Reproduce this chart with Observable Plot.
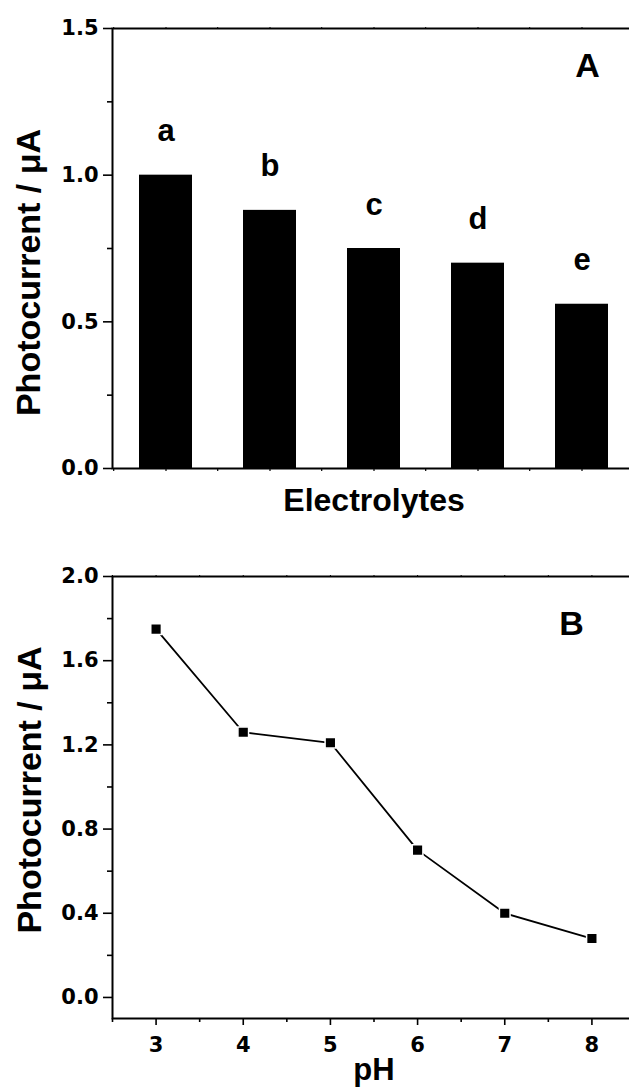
<!DOCTYPE html>
<html><head><meta charset="utf-8">
<script src="https://cdn.jsdelivr.net/npm/d3@7"></script>
<script src="https://cdn.jsdelivr.net/npm/@observablehq/plot@0.6"></script>
<style>
html,body{margin:0;padding:0;background:#fff;}
#chart svg{display:block;}
</style>
</head><body><div id="chart"></div>
<script>
// ---- data ----
const electrolytes = ["a", "b", "c", "d", "e"];
const photocurrentA = [1.00, 0.88, 0.75, 0.70, 0.56];
const yTicksA = [0, 0.5, 1.0, 1.5];
const yMinorA = [0.25, 0.75, 1.25];

const pH = [3, 4, 5, 6, 7, 8];
const photocurrentB = [1.75, 1.26, 1.21, 0.70, 0.40, 0.28];
const yTicksB = [0, 0.4, 0.8, 1.2, 1.6, 2.0];
const yMinorB = [0.2, 0.6, 1.0, 1.4, 1.8];
const yDomainB = [-0.1, 2.0];
const xTicksB = [3, 4, 5, 6, 7, 8];
const xMinorB = [2.5, 3.5, 4.5, 5.5, 6.5, 7.5, 8.5];

const yLabel = "Photocurrent / μA";
const xLabelA = "Electrolytes";
const xLabelB = "pH";
const panelA = "A";
const panelB = "B";

// ---- build ----
const dataA = electrolytes.map((name, i) => ({name, value: photocurrentA[i]}));
const dataB = pH.map((p, i) => ({pH: p, value: photocurrentB[i]}));

const ARIAL = "'Liberation Sans', Arial, Helvetica, sans-serif";
const TICKFONT = "'DejaVu Sans', sans-serif";
const blank = () => "";
const fmt1 = d3.format(".1f");

const W = 629;
const mL = 112, mR = -6;
const hA = 540, mTA = 28, mBA = 72;
const halfStep = (W - mL - mR) / electrolytes.length / 2;

const chartA = Plot.plot({
  width: W, height: hA,
  marginLeft: mL, marginRight: mR, marginTop: mTA, marginBottom: mBA,
  style: {fontFamily: TICKFONT, fontSize: "21px", fontWeight: "bold", overflow: "hidden", background: "white"},
  x: {type: "band", domain: electrolytes, paddingInner: 0.49, paddingOuter: 0.245},
  y: {domain: d3.extent(yTicksA)},
  marks: [
    Plot.barY(dataA, {x: "name", y: "value", fill: "black"}),
    Plot.text(dataA, {x: "name", y: "value", text: "name", lineAnchor: "bottom", dy: -34,
      fontSize: 31, fontFamily: ARIAL, fontWeight: "bold"}),
    Plot.frame({stroke: "black", strokeWidth: 2}),
    Plot.axisY({ticks: yTicksA, tickSize: 9, tickPadding: 5, tickFormat: fmt1, label: null, strokeWidth: 1.6}),
    Plot.axisY({ticks: yMinorA, tickSize: 5, tickFormat: blank, label: null, strokeWidth: 1.6}),
    Plot.axisX({tickSize: 3, tickFormat: blank, label: null, strokeWidth: 1.2}),
    Plot.axisX({tickSize: 3, tickFormat: blank, label: null, strokeWidth: 1.2, dx: -halfStep}),
    Plot.axisX({anchor: "top", tickSize: 2, tickFormat: blank, label: null, strokeWidth: 1}),
    Plot.axisX({anchor: "top", tickSize: 2, tickFormat: blank, label: null, strokeWidth: 1, dx: -halfStep}),
    Plot.text([yLabel], {text: d => d, frameAnchor: "left", textAnchor: "middle", rotate: -90, dx: -83, dy: 24,
      fontSize: 34, fontFamily: ARIAL, fontWeight: "bold"}),
    Plot.text([xLabelA], {text: d => d, frameAnchor: "bottom", textAnchor: "middle", lineAnchor: "top", dy: 20,
      fontSize: 32, fontFamily: ARIAL, fontWeight: "bold"}),
    Plot.text([panelA], {text: d => d, frameAnchor: "top-right", lineAnchor: "top", textAnchor: "middle",
      dx: -48, dy: 24, fontSize: 34, fontFamily: ARIAL, fontWeight: "bold"})
  ]
});

const hB = 1087 - hA, mTB = 36, mBB = 69;
const chartB = Plot.plot({
  width: W, height: hB,
  marginLeft: mL, marginRight: mR, marginTop: mTB, marginBottom: mBB,
  style: {fontFamily: TICKFONT, fontSize: "21px", fontWeight: "bold", overflow: "hidden", background: "white"},
  x: {domain: d3.extent(xMinorB)},
  y: {domain: yDomainB},
  marks: [
    Plot.frame({stroke: "black", strokeWidth: 2}),
    Plot.line(dataB, {x: "pH", y: "value", stroke: "black", strokeWidth: 1.8}),
    Plot.dot(dataB, {x: "pH", y: "value", symbol: "square", r: 6, fill: "black", stroke: "white", strokeWidth: 1.5}),
    Plot.axisY({ticks: yTicksB, tickSize: 9, tickPadding: 5, tickFormat: fmt1, label: null, strokeWidth: 1.6}),
    Plot.axisY({ticks: yMinorB, tickSize: 5, tickFormat: blank, label: null, strokeWidth: 1.6}),
    Plot.axisX({ticks: xTicksB, tickSize: 7, tickPadding: 12, tickFormat: d3.format("d"), label: null, strokeWidth: 1.6}),
    Plot.axisX({ticks: xMinorB, tickSize: 4, tickFormat: blank, label: null, strokeWidth: 1.6}),
    Plot.axisX({anchor: "top", ticks: xTicksB.concat(xMinorB), tickSize: 2, tickFormat: blank, label: null, strokeWidth: 1}),
    Plot.text([yLabel], {text: d => d, frameAnchor: "left", textAnchor: "middle", rotate: -90, dx: -82, dy: -7.5,
      fontSize: 34, fontFamily: ARIAL, fontWeight: "bold"}),
    Plot.text([xLabelB], {text: d => d, frameAnchor: "bottom", textAnchor: "middle", lineAnchor: "top", dy: 39,
      fontSize: 31, fontFamily: ARIAL, fontWeight: "bold"}),
    Plot.text([panelB], {text: d => d, frameAnchor: "top-right", lineAnchor: "top", textAnchor: "middle",
      dx: -64, dy: 34, fontSize: 34, fontFamily: ARIAL, fontWeight: "bold"})
  ]
});

document.getElementById("chart").append(chartA, chartB);
</script>
</body></html>
